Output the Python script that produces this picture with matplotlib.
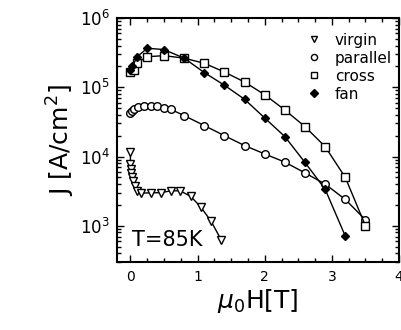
import matplotlib
matplotlib.use("Agg")
import matplotlib.pyplot as plt
from matplotlib.ticker import MultipleLocator, LogLocator, NullFormatter

virgin_x = [0.0, 0.0, 0.01, 0.015, 0.03, 0.04, 0.07, 0.10, 0.16, 0.30, 0.45, 0.60, 0.74, 0.90, 1.05, 1.20, 1.35]
virgin_J = [1.18e4, 7.8e3, 6.6e3, 5.7e3, 5.1e3, 4.5e3, 3.7e3, 3.2e3, 2.95e3, 3.0e3, 3.0e3, 3.2e3, 3.2e3, 2.65e3, 1.85e3, 1.17e3, 6.3e2]

parallel_x = [0.0, 0.03, 0.06, 0.11, 0.2, 0.3, 0.4, 0.5, 0.6, 0.8, 1.1, 1.4, 1.7, 2.0, 2.3, 2.6, 2.9, 3.2, 3.5]
parallel_J = [4.2e4, 4.55e4, 4.9e4, 5.25e4, 5.4e4, 5.4e4, 5.3e4, 5.1e4, 4.8e4, 3.9e4, 2.8e4, 2.0e4, 1.44e4, 1.09e4, 8.3e3, 5.8e3, 4.0e3, 2.4e3, 1.22e3]

cross_x = [0.0, 0.05, 0.1, 0.25, 0.5, 0.8, 1.1, 1.4, 1.7, 2.0, 2.3, 2.6, 2.9, 3.2, 3.5]
cross_J = [1.65e5, 1.75e5, 2.27e5, 2.76e5, 2.86e5, 2.63e5, 2.22e5, 1.66e5, 1.19e5, 7.8e4, 4.7e4, 2.7e4, 1.39e4, 5.0e3, 1.0e3]

fan_x = [0.0, 0.03, 0.1, 0.25, 0.5, 0.8, 1.1, 1.4, 1.7, 2.0, 2.3, 2.6, 2.9, 3.2]
fan_J = [1.78e5, 2.0e5, 2.76e5, 3.66e5, 3.5e5, 2.63e5, 1.63e5, 1.07e5, 6.7e4, 3.6e4, 1.94e4, 8.2e3, 3.37e3, 7.1e2]

labels = ["virgin", "parallel", "cross", "fan"]

plt.rcParams['font.family'] = ['DejaVu Sans']
plt.rcParams['mathtext.fontset'] = 'dejavusans'

fig = plt.figure(figsize=(4.01, 3.30), dpi=100)
ax = fig.add_axes([117/401, 1-262/330, (399-117)/401, (262-18)/330])

lw = 1.0
ax.plot(virgin_x, virgin_J, '-', color='black', lw=lw, marker='v', ms=6, mfc='white', mec='black', mew=1.0, label=labels[0])
ax.plot(parallel_x, parallel_J, '-', color='black', lw=lw, marker='o', ms=5.5, mfc='white', mec='black', mew=1.0, label=labels[1])
ax.plot(cross_x, cross_J, '-', color='black', lw=lw, marker='s', ms=5.5, mfc='white', mec='black', mew=1.0, label=labels[2])
ax.plot(fan_x, fan_J, '-', color='black', lw=lw, marker='D', ms=4.5, mfc='black', mec='black', mew=1.0, label=labels[3])

ax.set_yscale('log')
ax.set_xlim(-0.2, 4.0)
ax.set_ylim(3e2, 1e6)
ax.xaxis.set_major_locator(MultipleLocator(1))
ax.xaxis.set_minor_locator(MultipleLocator(0.25))
ax.yaxis.set_major_locator(LogLocator(base=10, numticks=10))
ax.yaxis.set_minor_locator(LogLocator(base=10, subs=range(2, 10), numticks=20))
ax.yaxis.set_minor_formatter(NullFormatter())

ax.tick_params(which='both', direction='in', top=True, right=True, width=1.0)
ax.tick_params(which='major', length=5)
ax.tick_params(which='minor', length=3)
ax.tick_params(axis='x', labelsize=10, pad=6)
ax.tick_params(axis='y', labelsize=12, pad=5)
for s in ax.spines.values():
    s.set_linewidth(1.5)

ax.set_xlabel(r'$\mu_0$H[T]', fontsize=18, labelpad=2)
ax.set_ylabel(r'J [A/cm$^2$]', fontsize=18, labelpad=2)

ax.text(0.053, 0.09, 'T=85K', transform=ax.transAxes, fontsize=15, va='center', ha='left')

ax.legend(loc='upper left', bbox_to_anchor=(0.67, 0.94), frameon=False, fontsize=11,
          handlelength=1.0, handletextpad=0.9, labelspacing=0.2, borderpad=0, borderaxespad=0,
          markerscale=0.8)
for h in ax.get_legend().legend_handles:
    h.set_linestyle('none')

fig.savefig('out.png', dpi=100)
